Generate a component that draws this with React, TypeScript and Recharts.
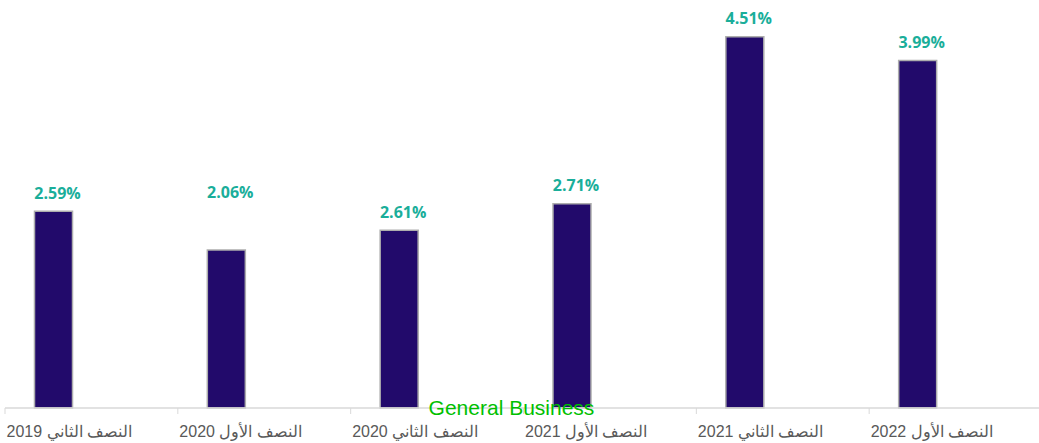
import React from "react";
import { BarChart, Bar, XAxis, YAxis, LabelList } from "recharts";

const categories = [
  "النصف الثاني 2019",
  "النصف الأول 2020",
  "النصف الثاني 2020",
  "النصف الأول 2021",
  "النصف الثاني 2021",
  "النصف الأول 2022",
];
// bar heights as drawn in the picture
const barValues = [2.39, 1.92, 2.16, 2.48, 4.51, 4.22];
// value labels as printed
const labelTexts = ["2.59%", "2.06%", "2.61%", "2.71%", "4.51%", "3.99%"];

const data = categories.map((c, i) => ({
  name: c,
  value: barValues[i],
  label: labelTexts[i],
  blankA: null,
  blankB: null,
}));

const CHART_W = 1042;
const CHART_H = 443;
const M_LEFT = 5;
const M_RIGHT = 0;
const BAND = (CHART_W - M_LEFT - M_RIGHT) / categories.length;

const AxisTick = (props: any) => {
  const { x, y, payload } = props;
  const left = x - BAND / 2;
  const axisY = y - 8;
  return (
    <g>
      <line x1={left} y1={axisY} x2={left} y2={axisY + 6} stroke="#D9D9D9" strokeWidth={1} />
      <text
        x={left + 1.5}
        y={axisY + 29}
        textAnchor="start"
        fill="#595959"
        fontFamily="'Liberation Sans', Arial, sans-serif"
        fontSize={16}
      >
        {payload.value}
      </text>
    </g>
  );
};

const ValueLabel = (props: any) => {
  const { x, y, width, index } = props;
  const lift = index === 1 ? 39 : 0;
  return (
    <text
      x={x + width / 2 + 4}
      y={y - 12.5 - lift}
      textAnchor="middle"
      fill="#1AAE9A"
      fontFamily="'Open Sans', sans-serif"
      fontWeight={700}
      fontSize={16}
    >
      {labelTexts[index]}
    </text>
  );
};

export default function App() {
  return (
    <div
      style={{
        position: "absolute",
        left: 0,
        top: 0,
        width: 1039,
        height: 443,
        overflow: "hidden",
        background: "#fff",
      }}
    >
      <BarChart
        width={CHART_W}
        height={CHART_H}
        data={data}
        margin={{ top: 12.8, right: M_RIGHT, bottom: 0, left: M_LEFT }}
        barCategoryGap={29.5}
        barGap={0}
      >
        <XAxis
          dataKey="name"
          height={35}
          interval={0}
          tickLine={false}
          axisLine={{ stroke: "#D9D9D9", strokeWidth: 1.5 }}
          tick={<AxisTick />}
        />
        <YAxis hide domain={[0, 4.8]} />
        <Bar
          dataKey="value"
          fill="#220A6B"
          stroke="#ADADAD"
          strokeWidth={1.5}
          isAnimationActive={false}
        >
          <LabelList dataKey="label" content={<ValueLabel />} />
        </Bar>
        <Bar dataKey="blankA" fill="#220A6B" isAnimationActive={false} />
        <Bar dataKey="blankB" fill="#220A6B" isAnimationActive={false} />
      </BarChart>
      <div
        style={{
          position: "absolute",
          left: 0,
          top: 396,
          width: 1023,
          textAlign: "center",
          color: "#00C000",
          fontFamily: "'Liberation Sans', Arial, sans-serif",
          fontSize: 21,
          lineHeight: "24px",
          whiteSpace: "nowrap",
        }}
      >
        General Business
      </div>
    </div>
  );
}
